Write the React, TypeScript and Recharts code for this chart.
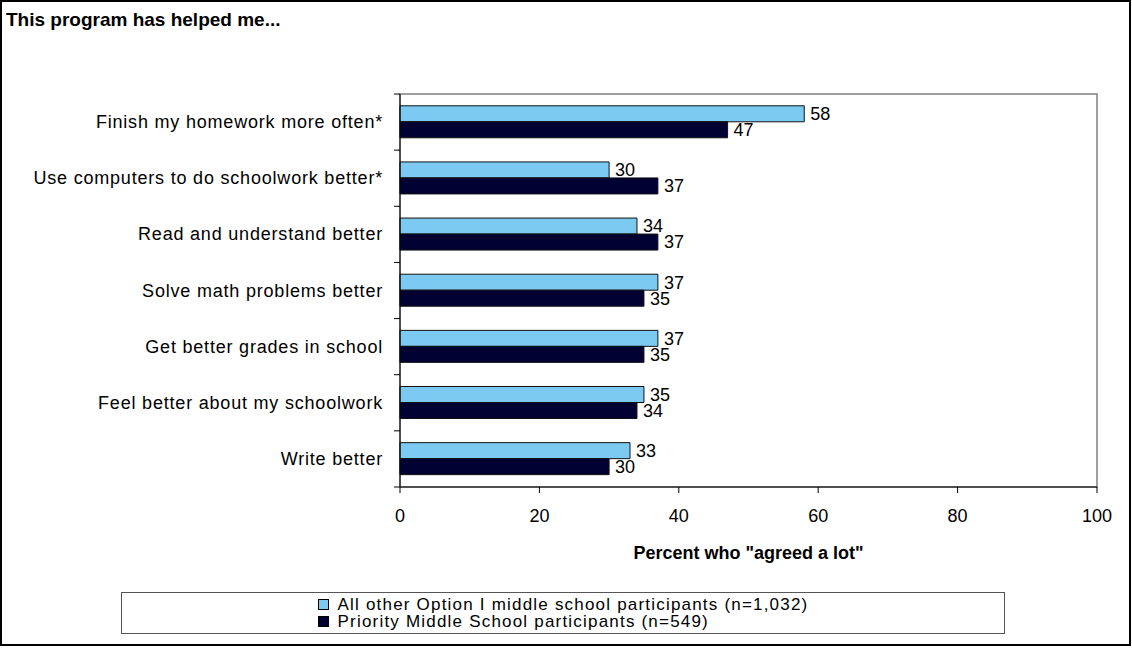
import React from "react";
import { BarChart, Bar, XAxis, YAxis, LabelList, ReferenceArea } from "recharts";

const categories = [
	"Finish my homework more often*",
	"Use computers to do schoolwork better*",
	"Read and understand better",
	"Solve math problems better",
	"Get better grades in school",
	"Feel better about my schoolwork",
	"Write better",
];
const allOtherValues = [58, 30, 34, 37, 37, 35, 33];
const priorityValues = [47, 37, 37, 35, 35, 34, 30];
const xTicks = [0, 20, 40, 60, 80, 100];

const seriesNames = [
	"All other Option I middle school participants (n=1,032)",
	"Priority Middle School participants (n=549)",
];
const seriesColors = ["#7ccaf2", "#000033"];

const FONT = "Arial, 'Liberation Sans', sans-serif";
const W = 1132;
const H = 648;
const PLOT_LEFT = 400;
const PLOT_TOP = 94;
const PLOT_BOTTOM = 487;
const BAND = (PLOT_BOTTOM - PLOT_TOP) / categories.length;

const data = categories.map((name, i) => ({
	name,
	allOther: allOtherValues[i],
	priority: priorityValues[i],
}));

// category labels + tick marks on the band boundaries (Excel style)
function CategoryTick(props: any) {
	const { y, payload, index } = props;
	const top = y - BAND / 2;
	return (
		<g>
			<line x1={PLOT_LEFT - 6} x2={PLOT_LEFT} y1={top} y2={top} stroke="#000" />
			{index === categories.length - 1 && (
				<line x1={PLOT_LEFT - 6} x2={PLOT_LEFT} y1={y + BAND / 2} y2={y + BAND / 2} stroke="#000" />
			)}
			<text
				x={PLOT_LEFT - 17}
				y={y}
				textAnchor="end"
				dominantBaseline="central"
				fontSize={18}
				fontFamily={FONT}
				fill="#000"
				letterSpacing={0.8}
			>
				{payload.value}
			</text>
		</g>
	);
}

export default function App() {
	return (
		<div style={{ position: "absolute", left: 0, top: 0, width: W, height: H, background: "#fff", fontFamily: FONT }}>
			<BarChart
				width={W}
				height={H}
				data={data}
				layout="vertical"
				margin={{ top: PLOT_TOP, right: 35, left: 10, bottom: H - PLOT_BOTTOM - 30 }}
				barCategoryGap="21%"
				barGap={0}
			>
				<ReferenceArea x1={0} x2={100} fill="none" stroke="#808080" strokeWidth={1.5} />
				<XAxis
					type="number"
					domain={[0, 100]}
					ticks={xTicks}
					height={30}
					tickSize={6}
					tickMargin={16}
					axisLine={{ stroke: "#000" }}
					tickLine={{ stroke: "#000" }}
					tick={{ fontSize: 18, fill: "#000", fontFamily: FONT }}
					label={{
						value: 'Percent who "agreed a lot"',
						position: "bottom",
						offset: 29,
						fontSize: 18,
						fontWeight: "bold",
						fill: "#000",
						fontFamily: FONT,
					}}
				/>
				<YAxis
					type="category"
					dataKey="name"
					width={390}
					axisLine={{ stroke: "#000" }}
					tickLine={false}
					tick={<CategoryTick />}
					interval={0}
				/>
				<Bar dataKey="allOther" fill={seriesColors[0]} stroke="#111" strokeWidth={1} isAnimationActive={false}>
					<LabelList dataKey="allOther" position="right" offset={6} fill="#000" fontSize={18} fontFamily={FONT} />
				</Bar>
				<Bar dataKey="priority" fill={seriesColors[1]} stroke="#111" strokeWidth={1} isAnimationActive={false}>
					<LabelList dataKey="priority" position="right" offset={6} fill="#000" fontSize={18} fontFamily={FONT} />
				</Bar>
			</BarChart>

			<div style={{ position: "absolute", left: 6, top: 9, fontSize: 19, fontWeight: "bold", color: "#000" }}>
				This program has helped me...
			</div>

			<div
				style={{
					position: "absolute",
					left: 121,
					top: 592,
					width: 884,
					height: 42,
					boxSizing: "border-box",
					border: "1px solid #555",
					display: "flex",
					flexDirection: "column",
					alignItems: "center",
					justifyContent: "center",
				}}
			>
				<div>
					{seriesNames.map((name, i) => (
						<div
							key={name}
							style={{ display: "flex", alignItems: "center", height: 17, fontSize: 17, lineHeight: "17px", letterSpacing: 1.2 }}
						>
							<span
								style={{
									display: "inline-block",
									width: 9,
									height: 9,
									background: seriesColors[i],
									border: "1px solid #000",
									marginRight: 9,
								}}
							/>
							{name}
						</div>
					))}
				</div>
			</div>

			<div
				style={{
					position: "absolute",
					left: 0,
					top: 0,
					width: 1131,
					height: 646,
					boxSizing: "border-box",
					border: "2.5px solid #000",
					pointerEvents: "none",
				}}
			/>
		</div>
	);
}
